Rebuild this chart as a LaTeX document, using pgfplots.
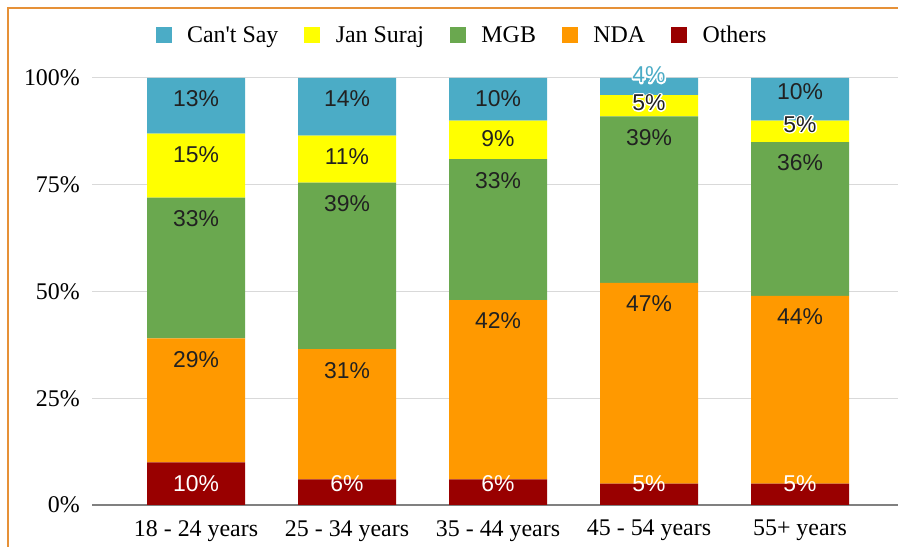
\documentclass[border=0pt]{standalone}
\usepackage{pgfplots}
\pgfplotsset{compat=1.18}
\usepackage{pgfplotstable}
\usepackage{fontspec}
\setmainfont{Liberation Serif}
\newfontfamily\lblfont{Liberation Sans}
\newcommand\halo[1]{\rlap{\special{pdf:literal direct 1 Tr 2.8 w 1 j 1 1 1 RG}#1\special{pdf:literal direct 0 Tr}}#1}
\definecolor{cscol}{HTML}{4BACC6}
\definecolor{jscol}{HTML}{FFFF00}
\definecolor{mgbcol}{HTML}{6AA84F}
\definecolor{ndacol}{HTML}{FF9900}
\definecolor{othcol}{HTML}{990000}
\definecolor{framecol}{HTML}{E69138}
\definecolor{gridcol}{HTML}{D9D9D9}
\definecolor{basecol}{HTML}{808080}
\definecolor{lblcol}{HTML}{212121}

% c: 0 dark text, 1 white text, 2 blue text; h: 1 = white halo
\pgfplotstableread{
x y lab c h dy
0 10 10 1 0 0
1 6 6 1 0 17
2 6 6 1 0 17
3 5 5 1 0 21
4 5 5 1 0 21
}\tothers
\pgfplotstableread{
x y lab c h dy
0 29 29 0 0 0
1 30.5 31 0 0 0
2 42 42 0 0 0
3 47 47 0 0 0
4 44 44 0 0 0
}\tnda
\pgfplotstableread{
x y lab c h dy
0 33 33 0 0 0
1 39 39 0 0 0
2 33 33 0 0 0
3 39 39 0 0 0
4 36 36 0 0 0
}\tmgb
\pgfplotstableread{
x y lab c h dy
0 15 15 0 0 0
1 11 11 0 0 0
2 9 9 0 0 3
3 5 5 0 1 13.5
4 5 5 0 1 17.5
}\tjs
\pgfplotstableread{
x y lab c h dy
0 13 13 0 0 0
1 13.5 14 0 0 0
2 10 10 0 0 0
3 4 4 2 1 24
4 10 10 0 0 7.5
}\tcs

\begin{document}
\begin{tikzpicture}
\useasboundingbox (0,0) rectangle (898bp,547bp);
\begin{axis}[
  at={(92bp,42bp)}, anchor=south west,
  scale only axis, width=806bp, height=427bp,
  ybar stacked, bar width=98bp,
  xmin=-0.689, xmax=4.649, ymin=0, ymax=100,
  enlargelimits=false,
  axis line style={draw=none},
  major tick length=0pt,
  xtick={0,1,2,3,4},
  xticklabels={18 - 24 years,25 - 34 years,35 - 44 years,45 - 54 years,55+ years},
  xticklabel style={font=\fontsize{24}{28}\selectfont, inner sep=0pt, anchor=north, yshift=-15bp},
  ytick={25,50,75,100},
  yticklabels={25\%,50\%,75\%,100\%},
  extra y ticks={0}, extra y tick labels={0\%},
  extra y tick style={grid style={basecol, line width=1.5bp}},
  yticklabel style={font=\fontsize{24}{28}\selectfont, inner sep=0pt, anchor=east, xshift=-12bp},
  ymajorgrids, grid style={gridcol, line width=1bp},
  point meta=explicit symbolic,
  visualization depends on={\thisrow{y} \as \segh},
  visualization depends on={\thisrow{c} \as \lblci},
  visualization depends on={\thisrow{h} \as \lblhi},
  visualization depends on={\thisrow{dy} \as \lbldy},
  nodes near coords={\lblfont\ifdim\lblci pt>1.5pt\color{cscol}\else\ifdim\lblci pt>0.5pt\color{white}\else\color{lblcol}\fi\fi\ifdim\lblhi pt>0.5pt\halo{\pgfplotspointmeta\%}\else\pgfplotspointmeta\%\fi},
  every node near coord/.append style={font=\fontsize{23}{27}\selectfont, anchor=center, yshift=\segh*2.135bp-21bp+\lbldy*1bp},
  legend columns=5,
  legend cell align=left,
  legend style={at={(0.4578,1.1007)}, anchor=center, draw=none, fill=none,
    font=\fontsize{24}{28}\selectfont, column sep=0pt,
    /tikz/every even column/.append style={column sep=26bp},
    nodes={inner sep=0pt}},
]
\addlegendimage{legend image code/.code={\fill[cscol] (0bp,-7.5bp) rectangle (15bp,7.5bp);\path (31bp,0bp);}}
\addlegendimage{legend image code/.code={\fill[jscol] (0bp,-7.5bp) rectangle (15bp,7.5bp);\path (31bp,0bp);}}
\addlegendimage{legend image code/.code={\fill[mgbcol] (0bp,-7.5bp) rectangle (15bp,7.5bp);\path (31bp,0bp);}}
\addlegendimage{legend image code/.code={\fill[ndacol] (0bp,-7.5bp) rectangle (15bp,7.5bp);\path (31bp,0bp);}}
\addlegendimage{legend image code/.code={\fill[othcol] (0bp,-7.5bp) rectangle (15bp,7.5bp);\path (31bp,0bp);}}
\addplot[fill=othcol, draw=none] table[x=x, y=y, meta=lab] {\tothers};
\addplot[fill=ndacol, draw=none] table[x=x, y=y, meta=lab] {\tnda};
\addplot[fill=mgbcol, draw=none] table[x=x, y=y, meta=lab] {\tmgb};
\addplot[fill=jscol, draw=none] table[x=x, y=y, meta=lab] {\tjs};
\addplot[fill=cscol, draw=none] table[x=x, y=y, meta=lab] {\tcs};
\legend{Can\textquotesingle t Say, Jan Suraj, MGB, NDA, Others}
\end{axis}
\draw[framecol, line width=2bp] (8bp,-2bp) -- (8bp,539bp) -- (900bp,539bp);
\end{tikzpicture}
\end{document}
